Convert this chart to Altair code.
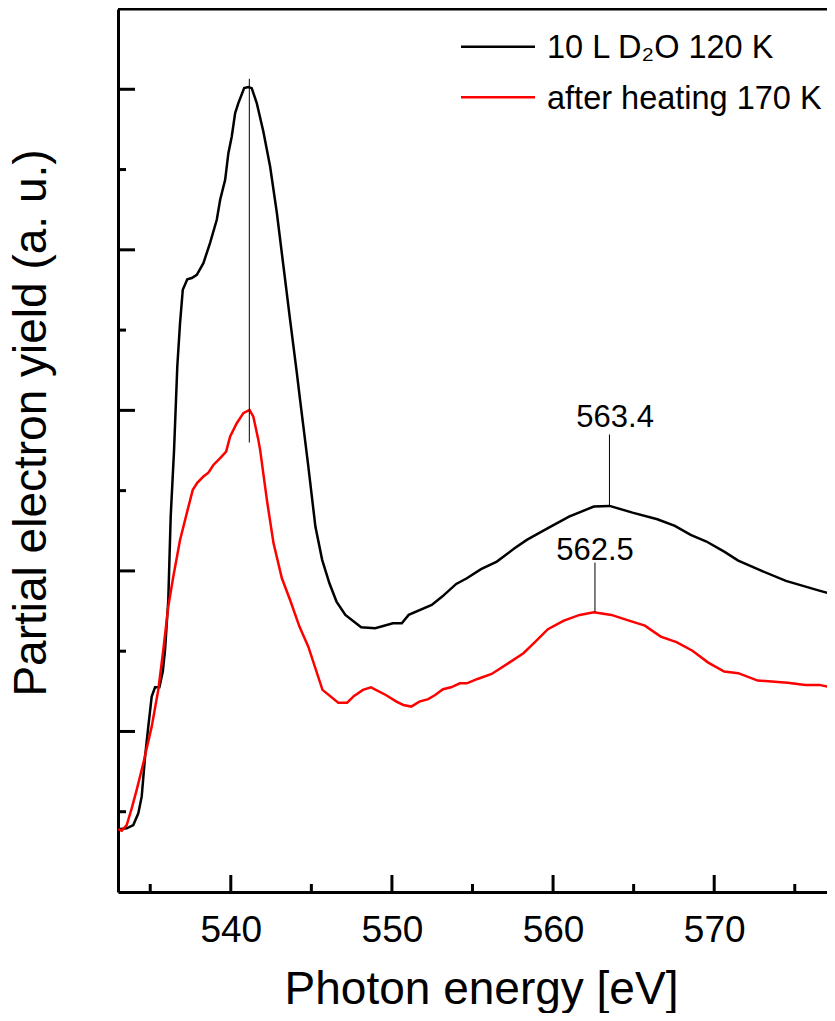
import altair as alt
import pandas as pd

# ---------------- data ----------------
energy_black = [533.02, 533.54, 533.95, 534.26, 534.47, 534.68, 534.88, 535.09, 535.30, 535.57,
                535.78, 535.92, 536.12, 536.27, 536.48, 536.68, 536.85, 537.02, 537.30, 537.58,
                537.89, 538.30, 538.71, 539.13, 539.34, 539.65, 539.85, 540.06, 540.27, 540.47,
                540.83, 541.09, 541.30, 541.61, 542.02, 542.44, 542.86, 543.27, 543.68, 544.10,
                544.30, 544.80, 545.25, 545.67, 546.12, 546.56, 547.11, 548.09, 548.96, 550.06,
                550.61, 551.04, 552.47, 553.12, 553.99, 554.65, 555.53, 556.51, 557.61, 558.37,
                559.68, 560.99, 562.53, 563.51, 564.93, 566.47, 567.56, 568.54, 569.52, 570.62,
                571.49, 572.81, 574.45, 576.52, 577.50]
pey_black = [0.391, 0.397, 0.417, 0.490, 0.594, 0.843, 1.030, 1.217, 1.275, 1.275,
             1.373, 1.508, 1.819, 2.338, 2.754, 3.273, 3.543, 3.751, 3.817, 3.824,
             3.844, 3.917, 4.042, 4.187, 4.312, 4.436, 4.602, 4.706, 4.852, 4.914,
             5.007, 5.014, 5.007, 4.914, 4.737, 4.519, 4.229, 3.896, 3.564, 3.232,
             3.065, 2.660, 2.276, 2.069, 1.923, 1.809, 1.726, 1.649, 1.643, 1.674,
             1.674, 1.726, 1.788, 1.840, 1.919, 1.954, 2.011, 2.058, 2.141, 2.193,
             2.266, 2.338, 2.401, 2.405, 2.363, 2.322, 2.280, 2.224, 2.183, 2.120,
             2.064, 2.006, 1.938, 1.877, 1.850]

energy_red = [533.02, 533.23, 533.54, 533.85, 534.16, 534.57, 535.09, 535.50, 535.81, 536.12,
              536.43, 536.85, 537.27, 537.64, 537.93, 538.30, 538.61, 538.92, 539.34, 539.71,
              539.96, 540.37, 540.78, 541.16, 541.40, 541.71, 541.82, 542.24, 542.65, 543.17,
              543.68, 544.26, 544.81, 545.69, 546.67, 547.22, 547.65, 548.20, 548.70, 549.62,
              550.28, 550.71, 551.20, 551.70, 552.25, 552.68, 553.17, 553.67, 554.22, 554.65,
              555.31, 556.19, 557.28, 558.16, 558.81, 559.68, 560.67, 561.65, 562.53, 563.62,
              564.71, 565.70, 566.68, 567.66, 568.65, 569.63, 570.62, 571.49, 572.70, 574.55,
              575.65, 576.52, 577.50]
pey_red = [0.391, 0.382, 0.417, 0.521, 0.636, 0.802, 1.030, 1.259, 1.508, 1.778,
           1.964, 2.193, 2.360, 2.505, 2.550, 2.588, 2.612, 2.660, 2.702, 2.743,
           2.837, 2.920, 2.983, 3.003, 2.961, 2.816, 2.754, 2.442, 2.173, 1.954,
           1.819, 1.653, 1.528, 1.259, 1.179, 1.179, 1.221, 1.259, 1.275, 1.227,
           1.186, 1.165, 1.155, 1.186, 1.201, 1.227, 1.263, 1.275, 1.300, 1.300,
           1.327, 1.358, 1.429, 1.487, 1.550, 1.637, 1.690, 1.726, 1.743, 1.726,
           1.690, 1.659, 1.591, 1.556, 1.503, 1.429, 1.373, 1.363, 1.317, 1.304,
           1.290, 1.290, 1.269]

series_names = ["10 L D\u2082O 120 K", "after heating 170 K"]
series_colors = ["#000000", "#ff0000"]

x_major = [540, 550, 560, 570]
x_minor = [535, 545, 555, 565, 575]
y_major = [1, 2, 3, 4, 5]
y_minor = [0.5, 1.5, 2.5, 3.5, 4.5]

# main-edge marker line
edge_x = [541.15]
edge_lo = [2.80]
edge_hi = [5.065]

# labelled post-edge peaks
peak_text = ["563.4", "562.5"]
peak_x = [563.5, 562.6]
peak_lo = [2.405, 1.745]
peak_hi = [2.85, 2.052]
peak_label_x = [563.85, 562.6]
peak_label_y = [2.897, 2.068]

# ---------------- layout ----------------
W, H = 709, 883
FONT = "Liberation Sans"

df = pd.concat([
    pd.DataFrame({"energy": energy_black, "pey": pey_black, "series": series_names[0]}),
    pd.DataFrame({"energy": energy_red, "pey": pey_red, "series": series_names[1]}),
])

xs = alt.Scale(domain=[533, 577.0], nice=False, zero=False)
ys = alt.Scale(domain=[0, 5.5], nice=False, zero=False)

lines = alt.Chart(df).mark_line(strokeWidth=2.5, clip=True).encode(
    x=alt.X("energy:Q", scale=xs, axis=alt.Axis(
        values=x_major, ticks=False, grid=False, domainWidth=3, domainColor="black",
        labelFontSize=37, labelFont=FONT, labelColor="black", labelPadding=20,
        title="Photon energy [eV]", titleFont=FONT, titleFontSize=46,
        titleFontWeight="normal", titleColor="black", titleBaseline="alphabetic",
        titleX=363, titleY=111)),
    y=alt.Y("pey:Q", scale=ys, axis=alt.Axis(
        labels=False, ticks=False, grid=False, domainWidth=3, domainColor="black",
        title="Partial electron yield (a. u.)", titleFont=FONT, titleFontSize=46,
        titleFontWeight="normal", titleColor="black", titleBaseline="alphabetic",
        titleAngle=270, titleAlign="center", titleX=-73, titleY=413.5)),
    color=alt.Color("series:N", scale=alt.Scale(domain=series_names, range=series_colors),
                    legend=None),
    detail="series:N",
)

def vticks(vals, length):
    return alt.Chart(pd.DataFrame({"v": vals})).mark_rule(color="black", strokeWidth=3).encode(
        y=alt.Y("v:Q", scale=ys), x=alt.value(0), x2=alt.value(length))

def hticks(vals, length):
    return alt.Chart(pd.DataFrame({"v": vals})).mark_rule(color="black", strokeWidth=3).encode(
        x=alt.X("v:Q", scale=xs), y=alt.value(H), y2=alt.value(H - length))

top_line = alt.Chart(pd.DataFrame({"a": [0]})).mark_rule(color="black", strokeWidth=3).encode(
    x=alt.value(0), x2=alt.value(W), y=alt.value(0))

edge = alt.Chart(pd.DataFrame({"x": edge_x, "lo": edge_lo, "hi": edge_hi})).mark_rule(
    color="black", strokeWidth=1).encode(
    x=alt.X("x:Q", scale=xs), y=alt.Y("lo:Q", scale=ys), y2="hi:Q")

pk = pd.DataFrame({"x": peak_x, "lo": peak_lo, "hi": peak_hi, "t": peak_text,
                   "lx": peak_label_x, "ly": peak_label_y})
leaders = alt.Chart(pk).mark_rule(color="black", strokeWidth=1).encode(
    x=alt.X("x:Q", scale=xs), y=alt.Y("lo:Q", scale=ys), y2="hi:Q")
labels = alt.Chart(pk).mark_text(font=FONT, fontSize=31, color="black", align="center",
                                 baseline="alphabetic").encode(
    x=alt.X("lx:Q", scale=xs), y=alt.Y("ly:Q", scale=ys), text="t:N")

# legend (manual, top right inside the frame)
leg_line_y = [37.7, 88.3]
leg_text_y = [49.3, 100.3]
legend_layers = []
for name, col, ly, ty in zip(series_names, series_colors, leg_line_y, leg_text_y):
    legend_layers.append(
        alt.Chart(pd.DataFrame({"s": [name]})).mark_rule(color=col, strokeWidth=2.5).encode(
            x=alt.value(343), x2=alt.value(417), y=alt.value(ly)))
    legend_layers.append(
        alt.Chart(pd.DataFrame({"s": [name]})).mark_text(
            font=FONT, fontSize=32.5, color="black", align="left", baseline="alphabetic").encode(
            x=alt.value(429), y=alt.value(ty), text="s:N"))

chart = alt.layer(
    lines, vticks(y_major, 17), vticks(y_minor, 8), hticks(x_major, 17), hticks(x_minor, 8),
    top_line, edge, leaders, labels, *legend_layers
).properties(
    width=W, height=H,
    padding={"left": 110, "top": 1, "right": 0, "bottom": 121},
    autosize=alt.AutoSizeParams(type="none"),
).configure_view(stroke=None).configure(font=FONT)

chart.save("out.html", embed_options={"renderer": "svg", "actions": False})
